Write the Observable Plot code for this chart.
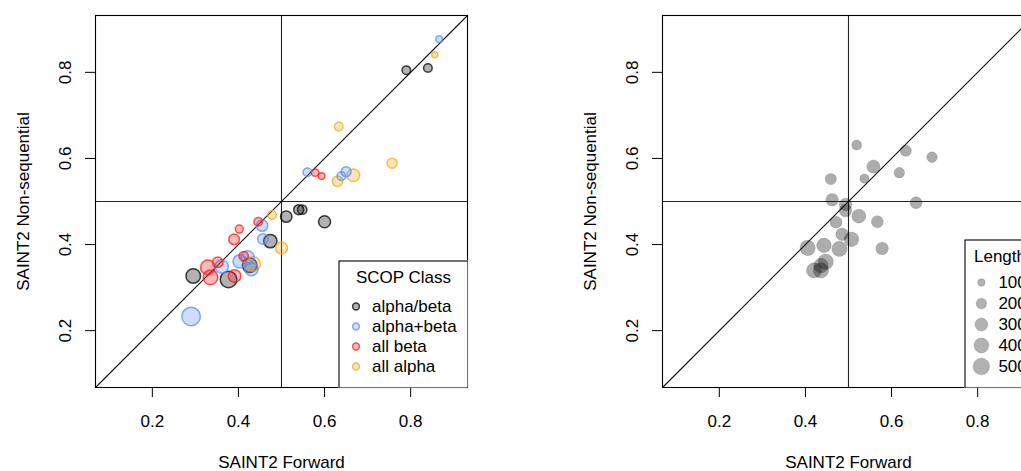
<!DOCTYPE html>
<html>
<head>
<meta charset="utf-8">
<script src="https://cdn.jsdelivr.net/npm/d3@7"></script>
<script src="https://cdn.jsdelivr.net/npm/@observablehq/plot@0.6"></script>
<style>
  html, body { margin: 0; padding: 0; background: white; }
  #wrap { position: relative; width: 1021px; height: 471px; overflow: hidden; background: white; }
  #wrap > svg, #wrap > figure { position: absolute; margin: 0; max-width: none; }
</style>
</head>
<body>
<div id="wrap"></div>
<script>
// ---------- data ----------
const axisLimits = [0.068, 0.932];
const tickValues = [0.2, 0.4, 0.6, 0.8];
const refValue = 0.5;

const classNames = ["alpha/beta", "alpha+beta", "all beta", "all alpha"];
const classColors = ["#000000", "#5b8def", "#ff1a1a", "#f5a81c"];

// left panel: SAINT2 Forward vs Non-sequential, coloured by SCOP class, sized by length
const leftX   = [0.866,0.856,0.790,0.840,0.633,0.757,0.560,0.578,0.593,0.639,0.650,0.630,0.667,
                 0.478,0.511,0.540,0.548,0.600,0.402,0.446,0.455,0.390,0.457,0.474,0.500,0.412,
                 0.421,0.403,0.426,0.434,0.430,0.352,0.361,0.329,0.335,0.295,0.377,0.391,0.290];
const leftY   = [0.877,0.841,0.805,0.810,0.674,0.589,0.568,0.567,0.559,0.559,0.569,0.547,0.561,
                 0.469,0.465,0.481,0.481,0.453,0.436,0.453,0.444,0.412,0.413,0.408,0.392,0.373,
                 0.370,0.361,0.352,0.355,0.343,0.359,0.349,0.347,0.324,0.327,0.319,0.327,0.233];
const leftLen = [80,66,135,135,135,183,135,100,80,135,183,205,290,
                 135,237,183,161,263,117,135,237,205,205,328,263,161,
                 328,328,389,389,328,205,328,389,389,389,503,290,631];
const leftCls = ["alpha+beta","all alpha","alpha/beta","alpha/beta","all alpha","all alpha","alpha+beta","all beta","all beta","alpha+beta","alpha+beta","all alpha","all alpha",
                 "all alpha","alpha/beta","alpha/beta","alpha/beta","alpha/beta","all beta","all beta","alpha+beta","all beta","alpha+beta","alpha/beta","all alpha","all beta",
                 "alpha+beta","alpha+beta","alpha/beta","all alpha","alpha+beta","all beta","alpha+beta","all beta","all beta","alpha/beta","alpha/beta","all beta","alpha+beta"];

// right panel
const rightX   = [0.519,0.633,0.694,0.558,0.618,0.459,0.537,0.462,0.657,0.493,0.493,0.524,
                  0.567,0.471,0.485,0.507,0.405,0.443,0.479,0.578,0.447,0.436,0.420,0.436];
const rightY   = [0.631,0.618,0.603,0.581,0.567,0.552,0.553,0.504,0.497,0.493,0.479,0.466,
                  0.453,0.452,0.424,0.412,0.392,0.398,0.390,0.391,0.360,0.351,0.340,0.340];
const rightLen = [183,235,205,325,205,235,160,290,263,290,290,358,
                  263,263,290,390,430,390,430,290,430,390,430,430];

const lengthLegend = [100, 200, 300, 400, 500];

const xLabel = "SAINT2 Forward";
const yLabel = "SAINT2 Non-sequential";
const classTitle = "SCOP Class";
const lengthTitle = "Length";

// ---------- build ----------
const leftRows = leftX.map((x, i) => ({x, y: leftY[i], len: leftLen[i], cls: leftCls[i]}));
const rightRows = rightX.map((x, i) => ({x, y: rightY[i], len: rightLen[i]}));

const font = "'Liberation Sans', Arial, Helvetica, sans-serif";
const baseStyle = {fontSize: "17px", fontFamily: font, background: "white", color: "black", maxWidth: "none"};
const rScale = {type: "sqrt", domain: [0, 500], range: [0, 8.27]};
const fmt = d3.format(".1f");

function panel(dotMark) {
  return Plot.plot({
    width: 567, height: 471,
    marginLeft: 95, marginRight: 100, marginTop: 15, marginBottom: 84,
    x: {domain: axisLimits},
    y: {domain: axisLimits},
    r: rScale,
    color: {domain: classNames, range: classColors},
    style: baseStyle,
    marks: [
      Plot.axisX({ticks: tickValues, tickSize: 10, tickPadding: 17.5, tickFormat: fmt,
        label: xLabel, labelAnchor: "center", labelOffset: 80, labelArrow: "none"}),
      Plot.axisY({ticks: tickValues, tickSize: 10, tickPadding: 15, tickRotate: -90, tickFormat: fmt,
        label: yLabel, labelAnchor: "center", labelOffset: 79, labelArrow: "none"}),
      Plot.ruleX([refValue], {stroke: "#222", strokeWidth: 1.1}),
      Plot.ruleY([refValue], {stroke: "#222", strokeWidth: 1.1}),
      Plot.line(axisLimits, {x: d => d, y: d => d, stroke: "#111", strokeWidth: 1.1}),
      dotMark,
      Plot.frame({stroke: "black", strokeWidth: 1.1})
    ]
  });
}

const left = panel(Plot.dot(leftRows, {x: "x", y: "y", r: "len", stroke: "cls", fill: "cls",
  fillOpacity: 0.3, strokeOpacity: 0.75, strokeWidth: 1.5}));
const right = panel(Plot.dot(rightRows, {x: "x", y: "y", r: "len", fill: "black", fillOpacity: 0.32,
  stroke: "black", strokeOpacity: 0.12, strokeWidth: 1}));

const wrap = document.getElementById("wrap");
left.style.left = "0px"; left.style.top = "0px";
right.style.left = "567px"; right.style.top = "0px";
wrap.appendChild(left);
wrap.appendChild(right);

// legend: SCOP class
const legendClass = Plot.plot({
  width: 130, height: 128, margin: 0.5,
  x: {domain: [0, 1], axis: null},
  y: {type: "point", domain: classNames, range: [44.8, 106.5], padding: 0, axis: null},
  color: {domain: classNames, range: classColors},
  style: baseStyle,
  marks: [
    Plot.frame({stroke: "black", strokeWidth: 1.1}),
    Plot.text([classTitle], {frameAnchor: "top", dy: 9.6, text: d => d}),
    Plot.dot(classNames, {y: d => d, frameAnchor: "left", dx: 17, r: 3.4, stroke: d => d, fill: d => d,
      fillOpacity: 0.3, strokeOpacity: 0.75, strokeWidth: 1.5}),
    Plot.text(classNames, {y: d => d, text: d => d, frameAnchor: "left", dx: 33, textAnchor: "start"})
  ]
});
legendClass.style.left = "337.5px"; legendClass.style.top = "259.5px";
wrap.appendChild(legendClass);

// legend: length
const legendLen = Plot.plot({
  width: 71, height: 149, margin: 0.5,
  x: {domain: [0, 1], axis: null},
  y: {type: "point", domain: lengthLegend, range: [43.2, 127.2], padding: 0, axis: null},
  r: rScale,
  style: baseStyle,
  marks: [
    Plot.frame({stroke: "black", strokeWidth: 1.1}),
    Plot.text([lengthTitle], {frameAnchor: "top", dy: 9.9, text: d => d}),
    Plot.dot(lengthLegend, {y: d => d, r: d => d, frameAnchor: "left", dx: 16.4, fill: "black",
      fillOpacity: 0.3, stroke: "black", strokeOpacity: 0.1}),
    Plot.text(lengthLegend, {y: d => d, text: d => String(d), frameAnchor: "left", dx: 33.4, textAnchor: "start"})
  ]
});
legendLen.style.left = "963.8px"; legendLen.style.top = "238.5px";
wrap.appendChild(legendLen);
</script>
</body>
</html>
